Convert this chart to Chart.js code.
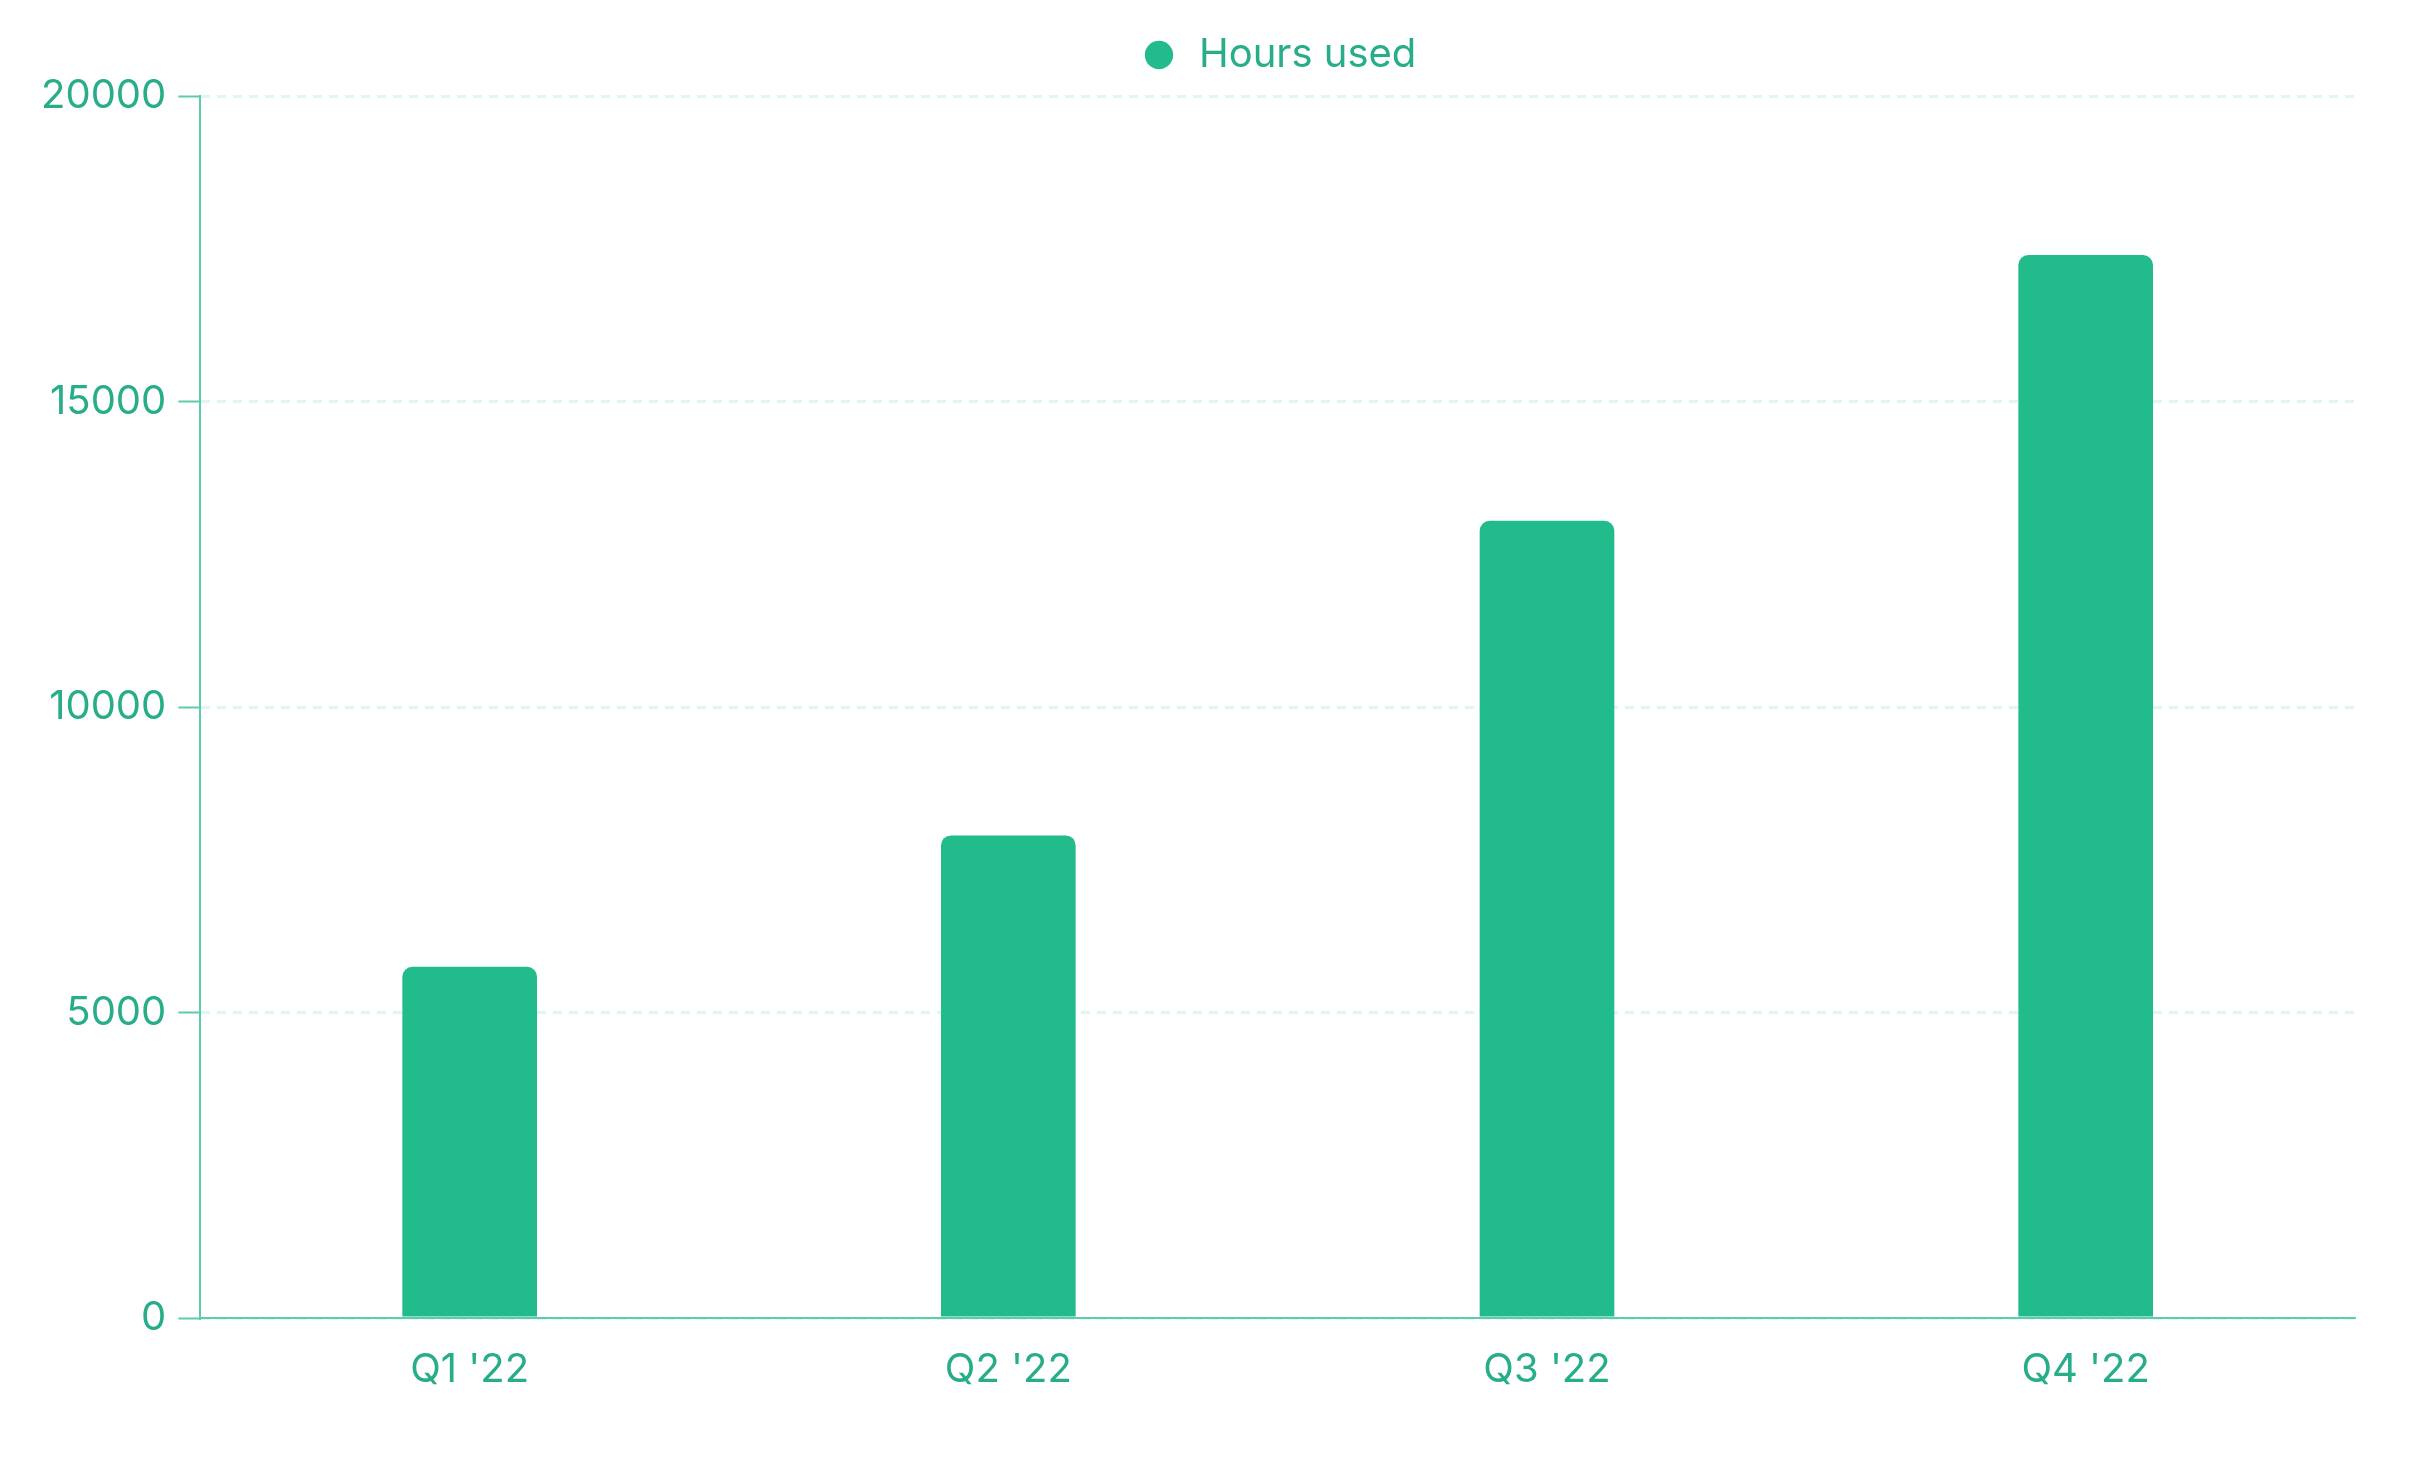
<!DOCTYPE html>
<html>
<head>
<meta charset="utf-8">
<script src="https://cdn.jsdelivr.net/npm/chart.js@4.4.0/dist/chart.umd.min.js"></script>
<style>
html,body{margin:0;padding:0;background:#ffffff;}
#wrap{width:2432px;height:1460px;}
</style>
</head>
<body>
<div id="wrap"><canvas id="c" width="2432" height="1460"></canvas></div>
<script>
const categories = ["Q1 '22", "Q2 '22", "Q3 '22", "Q4 '22"];
const hoursUsed = [5750, 7900, 13050, 17400];
const yTicks = [0, 5000, 10000, 15000, 20000];
const seriesName = "Hours used";

const green = '#22bc8c';
const textColor = '#27ad89';
const axisColor = '#5ccbae';
const gridColor = 'rgba(34,188,140,0.14)';

Chart.defaults.font.family = 'Inter, "Noto Sans", sans-serif';
Chart.defaults.font.size = 40;
Chart.defaults.color = textColor;

new Chart(document.getElementById('c'), {
  type: 'bar',
  data: {
    labels: categories,
    datasets: [{
      label: seriesName,
      data: hoursUsed,
      backgroundColor: green,
      borderWidth: 0,
      borderRadius: 10,
      borderSkipped: 'start',
      barPercentage: 0.25,
      categoryPercentage: 1.0
    }]
  },
  options: {
    responsive: false,
    devicePixelRatio: 1,
    animation: false,
    layout: { padding: { left: 29, right: 77, top: -7, bottom: 38 } },
    plugins: {
      legend: {
        display: true,
        position: 'top',
        fullSize: false,
        labels: {
          usePointStyle: true,
          pointStyle: 'circle',
          boxHeight: 20,
          color: textColor,
          padding: 42,
          font: { size: 40 }
        }
      },
      title: {
        display: true,
        text: '',
        position: 'top',
        fullSize: false,
        weight: 500,
        font: { size: 1 },
        padding: { top: 0, bottom: 10 }
      },
      tooltip: { enabled: false }
    },
    scales: {
      x: {
        grid: { display: false, drawTicks: false },
        border: { display: true, color: axisColor, width: 2 },
        ticks: { color: textColor, padding: 28, font: { size: 40 } }
      },
      y: {
        min: 0,
        max: 20000,
        afterBuildTicks: (axis) => { axis.ticks = yTicks.map(v => ({ value: v })); },
        grid: {
          color: gridColor,
          lineWidth: 3,
          tickColor: axisColor,
          tickLength: 22,
          tickWidth: 2
        },
        border: { display: true, color: axisColor, width: 2, dash: [9, 7] },
        ticks: {
          color: textColor,
          padding: 12,
          font: { size: 40 },
          callback: (v) => String(v)
        }
      }
    }
  }
});
</script>
</body>
</html>
